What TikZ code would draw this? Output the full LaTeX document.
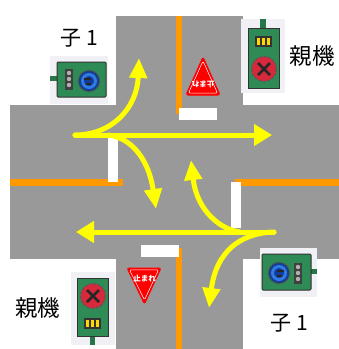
\documentclass[tikz,border=0pt]{standalone}
\usepackage{fontspec}
\setmainfont{Noto Sans CJK JP}
\usetikzlibrary{arrows.meta}
\definecolor{road}{HTML}{999999}
\definecolor{lane}{HTML}{FF9900}
\definecolor{arrowy}{HTML}{FFFF00}
\definecolor{board}{HTML}{2E8B55}
\definecolor{paper}{HTML}{F1F0F5}
\definecolor{signred}{HTML}{FF0000}
\definecolor{bluelamp}{HTML}{123C9C}
\definecolor{bluelight}{HTML}{2F7BE0}
\definecolor{redlamp}{HTML}{D8283C}
\tikzset{
  flow/.style={draw=arrowy,line width=5pt,line cap=round,-{Triangle[length=18pt,width=21pt]}},
  flowcurve/.style={draw=arrowy,line width=5pt,line cap=round,-{Triangle[length=20pt,width=17pt]}},
  labeltext/.style={font=\fontsize{22.5}{22.5}\selectfont,text=black,inner sep=0pt},
  childtext/.style={font=\fontsize{21}{21}\selectfont,text=black,inner sep=0pt},
  signtext/.style={font=\fontsize{7.5}{7.5}\selectfont\bfseries,text=white,inner sep=0pt},
  signface/.style={fill=signred,draw=signred,line width=1pt,line join=round,rounded corners=2pt},
  signline/.style={draw=white,line width=.5pt,line join=round,rounded corners=1.5pt},
  boardbox/.style={fill=board,draw=black!80,line width=1pt},
  photo/.style={fill=paper,draw=none},
  pole/.style={fill=board!85!black,draw=none},
  bluegear/.style={fill=bluelamp,draw=black!70,line width=1.2pt,dash pattern=on 2pt off 1pt},
  redgear/.style={fill=redlamp,draw=black!65,line width=1.2pt,dash pattern=on 3pt off 1.5pt},
}
\begin{document}
\begin{tikzpicture}[x=1pt,y=-1pt]
\useasboundingbox (0,0) rectangle (339,349);
\fill[white] (0,0) rectangle (339,349);
% roads
\fill[road] (10,105) rectangle (339,259);
\fill[road] (116,16) rectangle (243,349);
% centre lines
\fill[lane] (176,16) rectangle (182,114);
\fill[lane] (176,248) rectangle (182,349);
\fill[lane] (10,179) rectangle (123,186);
\fill[lane] (235,179) rectangle (339,186);
% stop lines
\fill[white] (179,108) rectangle (217,120);
\fill[white] (108,138) rectangle (118,182);
\fill[white] (231,182) rectangle (241,228);
\fill[white] (141,245) rectangle (179,257);
% arrows
\coordinate (wstart) at (75,135);
\coordinate (estart) at (274,232);
\coordinate (wend) at (272,135);
\coordinate (eend) at (76,232);
\coordinate (wup) at (139,58);
\coordinate (wdown) at (156,209);
\coordinate (edown) at (209,308);
\coordinate (eup) at (191,160);
\coordinate (wmid) at (108,135);
\coordinate (emid) at (240,232);
\draw[flowcurve] (wstart) .. controls (112,135) and (137,108) .. (wup);
\draw[flowcurve] (wmid) .. controls (128,137) and (148,155) .. (wdown);
\draw[flowcurve] (emid) .. controls (222,230) and (197,212) .. (eup);
\draw[flowcurve] (estart) .. controls (240,233) and (216,252) .. (edown);
\draw[flow] (wstart) -- (wend);
\draw[flow] (estart) -- (eend);
% signs
\fill[signface] (203,57) -- (220,95) -- (186,95) -- cycle;
\draw[signline] (203,61) -- (217.5,93.2) -- (188.5,93.2) -- cycle;
\node[signtext,rotate=180] (signtop) at (203,84) {止まれ};
\fill[signface] (127,268) -- (161,268) -- (144.5,304) -- cycle;
\draw[signline] (129.5,269.8) -- (158.5,269.8) -- (144.5,300) -- cycle;
\node[signtext] (signbottom) at (144.5,279) {止まれ};
% child signal, top left
\fill[photo] (50,56) rectangle (108,104);
\fill[pole] (50,76) rectangle (58,81);
\fill[boardbox,rounded corners=1pt] (57,62) rectangle (106,97);
\fill[black!75] (65,69) rectangle (73,90);
\foreach \yy in {73,79,85}{\fill[black!30] (69,\yy) circle (2.2);}
\draw[bluegear] (89,81) circle (10.5);
\draw[bluelight,line width=3pt] (89,81) circle (6.5);
\draw[black!85,line width=1.8pt] (84,79) -- (91,79) (91,84) -- (86,84);
% child signal, bottom right
\fill[photo] (260,248) rectangle (317,297);
\fill[pole] (311,269) rectangle (317,274);
\fill[boardbox,rounded corners=1pt] (262,254) rectangle (311,290);
\fill[black!75] (294,263) rectangle (302,284);
\foreach \yy in {267,273,279}{\fill[black!30] (298,\yy) circle (2.2);}
\draw[bluegear] (279,273) circle (10.5);
\draw[bluelight,line width=3pt] (279,273) circle (6.5);
\draw[black!85,line width=1.8pt] (284,271) -- (277,271) (277,276) -- (282,276);
% parent signal, top right
\fill[photo] (241,19) rectangle (285,93);
\fill[pole] (260,19) rectangle (266,28);
\fill[boardbox] (248,28) rectangle (279,88);
\fill[black!80] (255,36) rectangle (272,47);
\foreach \xx in {257,262,267}{\fill[yellow!75!orange] (\xx,38) rectangle (\xx+3,45);}
\draw[redgear] (264,69) circle (12.5);
\draw[black!85,line width=2.6pt] (258,63) -- (270,75) (270,63) -- (258,75);
% parent signal, bottom left
\fill[photo] (71,272) rectangle (115,345);
\fill[pole] (90,336) rectangle (95,345);
\fill[boardbox] (77,278) rectangle (108,336);
\fill[black!80] (84,318) rectangle (101,329);
\foreach \xx in {86,91,96}{\fill[yellow!75!orange] (\xx,320) rectangle (\xx+3,327);}
\draw[redgear] (93,296) circle (12.5);
\draw[black!85,line width=2.6pt] (87,290) -- (99,302) (99,290) -- (87,302);
% labels
\node[childtext] (child1) at (79,38) {子 1};
\node[labeltext] (parent1) at (312,56) {親機};
\node[labeltext] (parent2) at (38,308) {親機};
\node[childtext] (child2) at (289,323) {子 1};
\end{tikzpicture}
\end{document}
